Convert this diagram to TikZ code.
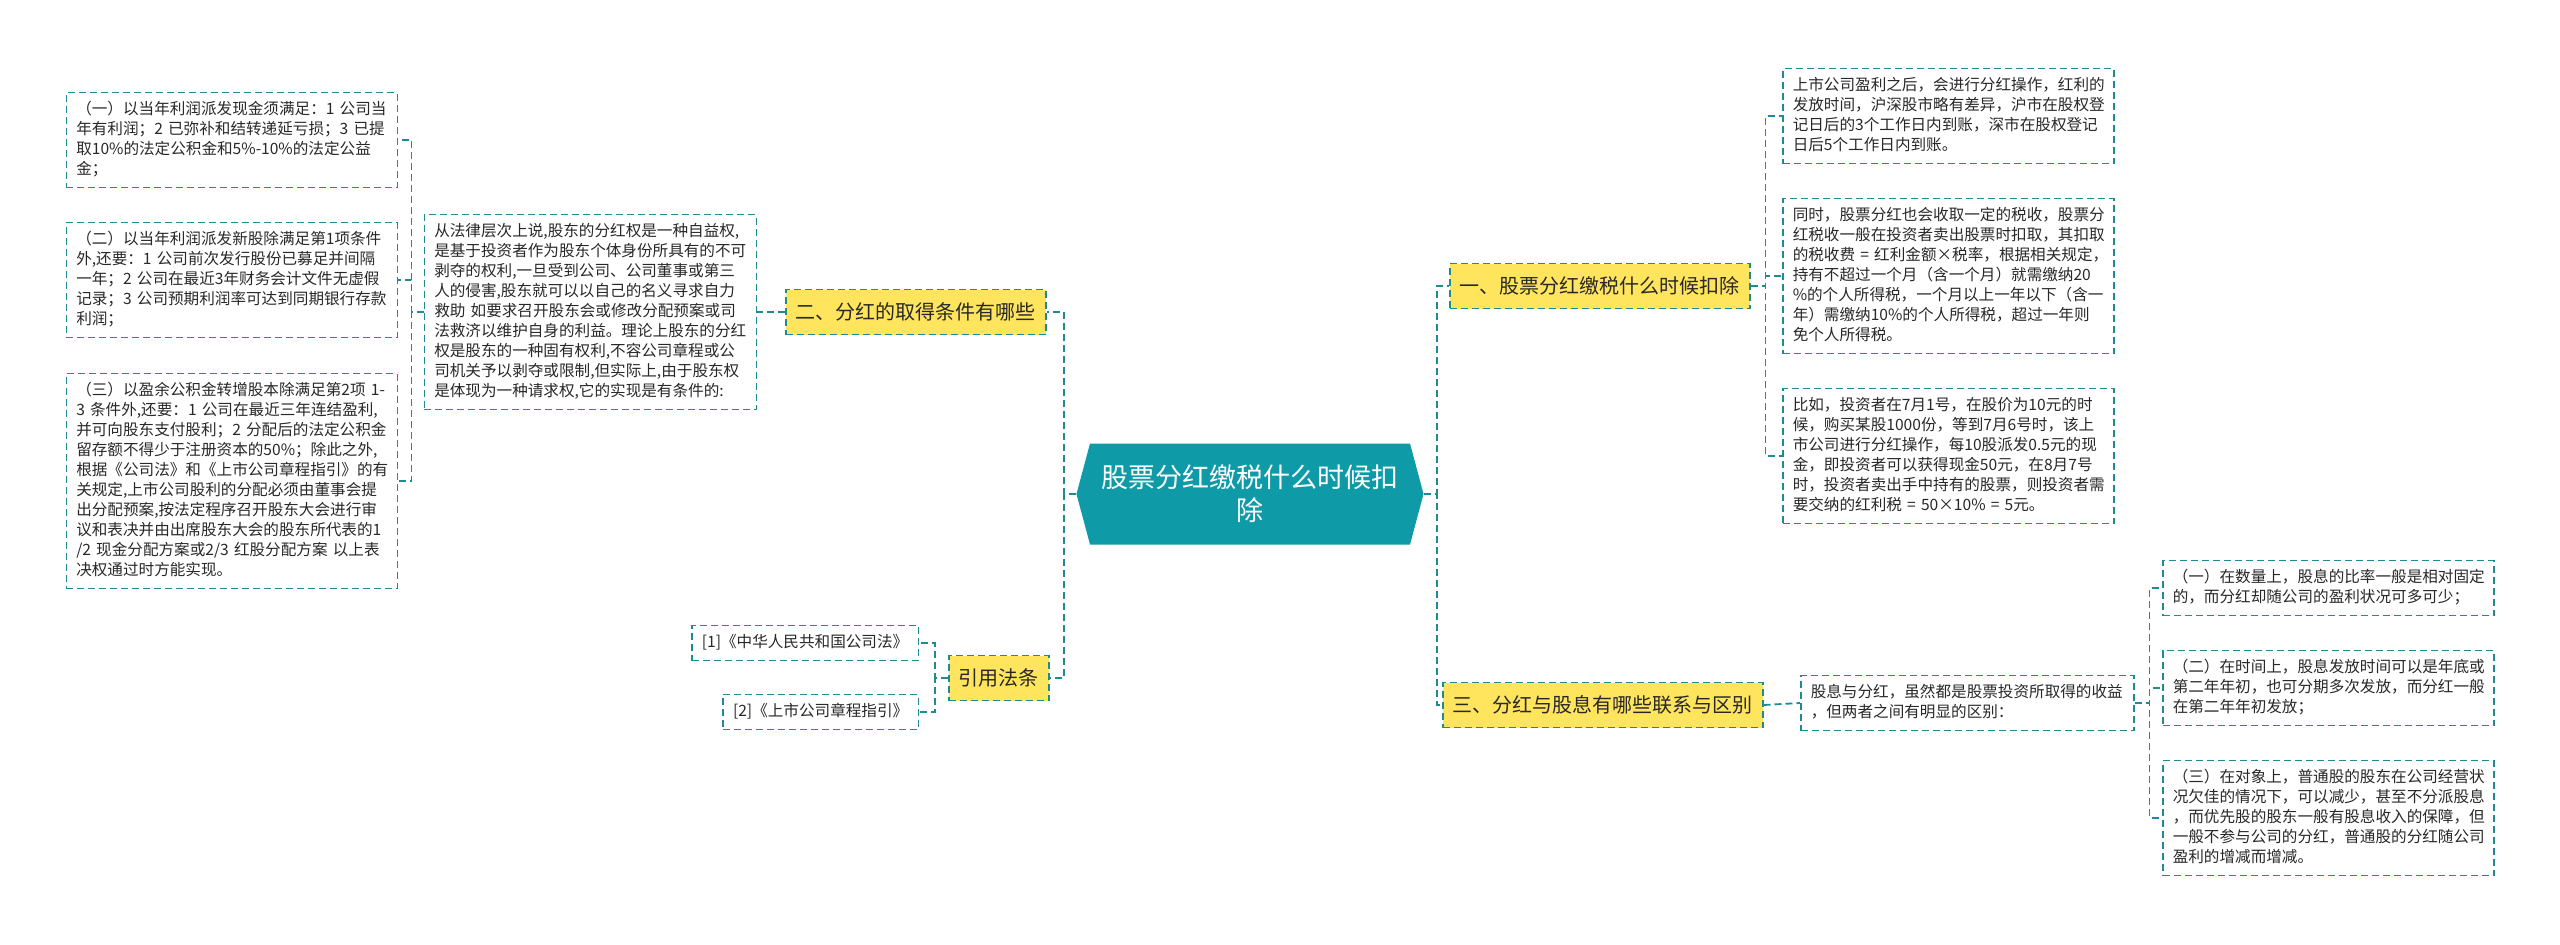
\documentclass[tikz,border=0pt]{standalone}
\usepackage{fontspec}
\setmainfont{Noto Sans CJK SC}
\usepackage{tikz}
\usetikzlibrary{shapes.symbols}
\definecolor{mapTeal}{RGB}{14,154,167}
\definecolor{mapLine}{RGB}{32,138,148}
\definecolor{mapYellow}{RGB}{255,228,94}
\definecolor{mapText}{RGB}{40,40,40}

\begin{document}
\begin{tikzpicture}[x=0.5pt, y=-0.5pt,
leaf/.style={rectangle, draw=mapLine, fill=white, line width=0.75pt,
dash pattern=on 3.5pt off 2pt, align=left, inner xsep=5pt, inner ysep=3.75pt,
font=\fontsize{7.8}{10}\selectfont, text=mapText,
execute at begin node=\strut, execute at end node=\strut},
topic/.style={rectangle, draw=mapLine, fill=mapYellow, line width=0.75pt,
dash pattern=on 3.5pt off 2pt, minimum height=22.5pt, inner xsep=5pt,
font=\fontsize{10}{12}\selectfont, text=mapText},
hub/.style={signal, signal to=west and east, signal pointer angle=150,
fill=mapTeal, text=white, text width=150pt, align=center,
minimum height=50.5pt, inner xsep=5pt, font=\fontsize{13.5}{16.5}\selectfont},
link/.style={draw=mapLine, line width=0.9pt, dash pattern=on 3.5pt off 2pt}]
\useasboundingbox (0,0) rectangle (2560,944);
\node[hub] (hub) at (1250,494) {股票分红缴税什么时候扣\\除};
% left branch
\node[topic, anchor=west] (cond) at (785,312) {二、分红的取得条件有哪些};
\node[topic, anchor=west] (cite) at (948,678) {引用法条};
\node[leaf, text width=156pt, anchor=east] (claim) at (757,312)
    {从法律层次上说,股东的分红权是一种自益权,\\是基于投资者作为股东个体身份所具有的不可\\剥夺的权利,一旦受到公司、公司董事或第三\\人的侵害,股东就可以以自己的名义寻求自力\\救助~如要求召开股东会或修改分配预案或司\\法救济以维护自身的利益。理论上股东的分红\\权是股东的一种固有权利,不容公司章程或公\\司机关予以剥夺或限制,但实际上,由于股东权\\是体现为一种请求权,它的实现是有条件的:};
\node[leaf, text width=155.5pt, anchor=east] (condA) at (398,140)
    {（一）以当年利润派发现金须满足：1~公司当\\年有利润；2~已弥补和结转递延亏损；3~已提\\取10\%的法定公积金和5\%-10\%的法定公益\\金；};
\node[leaf, text width=155.5pt, anchor=east] (condB) at (398,280)
    {（二）以当年利润派发新股除满足第1项条件\\外,还要：1~公司前次发行股份已募足并间隔\\一年；2~公司在最近3年财务会计文件无虚假\\记录；3~公司预期利润率可达到同期银行存款\\利润；};
\node[leaf, text width=155.5pt, anchor=east] (condC) at (398,481)
    {（三）以盈余公积金转增股本除满足第2项~1-\\3~条件外,还要：1~公司在最近三年连结盈利,\\并可向股东支付股利；2~分配后的法定公积金\\留存额不得少于注册资本的50\%；除此之外,\\根据《公司法》和《上市公司章程指引》的有\\关规定,上市公司股利的分配必须由董事会提\\出分配预案,按法定程序召开股东大会进行审\\议和表决并由出席股东大会的股东所代表的1\\/2~现金分配方案或2/3~红股分配方案~以上表\\决权通过时方能实现。};
\node[leaf, anchor=east] (lawA) at (919,643) {[1]《中华人民共和国公司法》};
\node[leaf, anchor=east] (lawB) at (919,712) {[2]《上市公司章程指引》};
% right branch
\node[topic, anchor=west] (tax) at (1449,286) {一、股票分红缴税什么时候扣除};
\node[topic, anchor=west] (diff) at (1442,705) {三、分红与股息有哪些联系与区别};
\node[leaf, text width=155.5pt, anchor=west] (timing) at (1782,116)
    {上市公司盈利之后，会进行分红操作，红利的\\发放时间，沪深股市略有差异，沪市在股权登\\记日后的3个工作日内到账，深市在股权登记\\日后5个工作日内到账。};
\node[leaf, text width=155.5pt, anchor=west] (rate) at (1782,276)
    {同时，股票分红也会收取一定的税收，股票分\\红税收一般在投资者卖出股票时扣取，其扣取\\的税收费~=~红利金额×税率，根据相关规定，\\持有不超过一个月（含一个月）就需缴纳20\\\%的个人所得税，一个月以上一年以下（含一\\年）需缴纳10\%的个人所得税，超过一年则\\免个人所得税。};
\node[leaf, text width=155.5pt, anchor=west] (sample) at (1782,456)
    {比如，投资者在7月1号，在股价为10元的时\\候，购买某股1000份，等到7月6号时，该上\\市公司进行分红操作，每10股派发0.5元的现\\金，即投资者可以获得现金50元，在8月7号\\时，投资者卖出手中持有的股票，则投资者需\\要交纳的红利税~=~50×10\%~=~5元。};
\node[leaf, text width=156.5pt, anchor=west] (gist) at (1800,703)
    {股息与分红，虽然都是股票投资所取得的收益\\，但两者之间有明显的区别：};
\node[leaf, text width=155.5pt, anchor=west] (amount) at (2162,588)
    {（一）在数量上，股息的比率一般是相对固定\\的，而分红却随公司的盈利状况可多可少；};
\node[leaf, text width=155.5pt, anchor=west] (period) at (2162,688)
    {（二）在时间上，股息发放时间可以是年底或\\第二年年初，也可分期多次发放，而分红一般\\在第二年年初发放；};
\node[leaf, text width=155.5pt, anchor=west] (holder) at (2162,818)
    {（三）在对象上，普通股的股东在公司经营状\\况欠佳的情况下，可以减少，甚至不分派股息\\，而优先股的股东一般有股息收入的保障，但\\一般不参与公司的分红，普通股的分红随公司\\盈利的增减而增减。};
% connectors
\draw[link] (hub.west) -- ++(-12,0) |- (cond.east);
\draw[link] (hub.west) -- ++(-12,0) |- (cite.east);
\draw[link] (hub.east) -- ++(13,0) |- (tax.west);
\draw[link] (hub.east) -- ++(13,0) |- (diff.west);
\draw[link] (cond.west) -- (claim.east);
\draw[link] (claim.west) -- ++(-12,0) |- (condA.east);
\draw[link] (claim.west) -- ++(-12,0) |- (condB.east);
\draw[link] (claim.west) -- ++(-12,0) |- (condC.east);
\draw[link] (cite.west) -- ++(-13,0) |- (lawA.east);
\draw[link] (cite.west) -- ++(-13,0) |- (lawB.east);
\draw[link] (tax.east) -- ++(15,0) |- (timing.west);
\draw[link] (tax.east) -- ++(15,0) |- (rate.west);
\draw[link] (tax.east) -- ++(15,0) |- (sample.west);
\draw[link] (diff.east) -- (gist.west);
\draw[link] (gist.east) -- ++(15,0) |- (amount.west);
\draw[link] (gist.east) -- ++(15,0) |- (period.west);
\draw[link] (gist.east) -- ++(15,0) |- (holder.west);
\end{tikzpicture}
\end{document}
